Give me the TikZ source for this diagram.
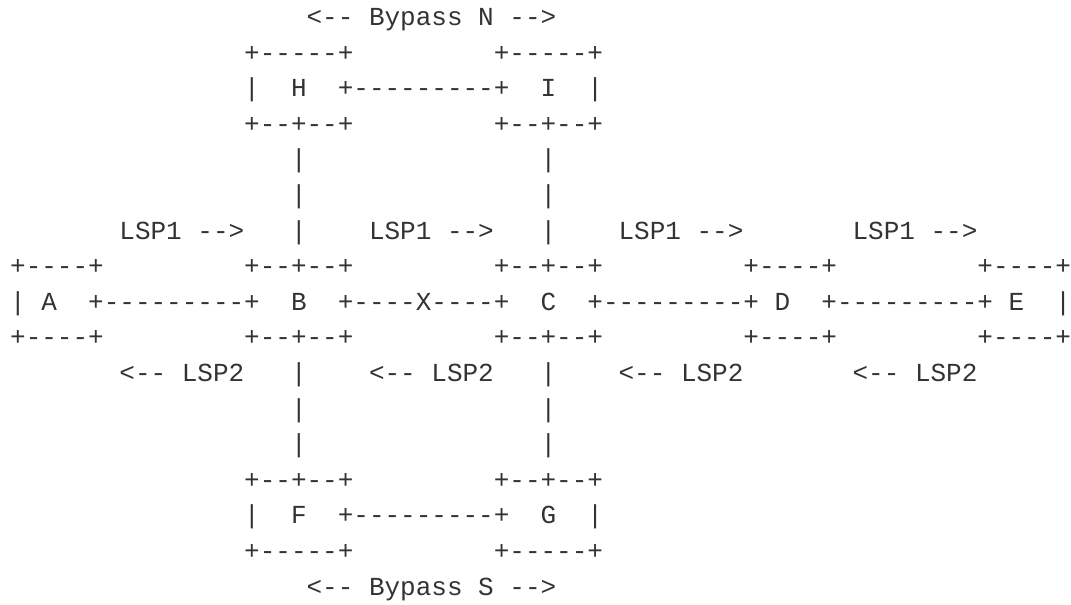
\documentclass[tikz,border=0pt]{standalone}
\usepackage{fontspec}
\setmonofont{Liberation Mono}
\definecolor{inkgray}{HTML}{333333}
\tikzset{
  ascii/.style={anchor=base west, inner sep=0pt, text=inkgray,
    font=\ttfamily\fontsize{26bp}{30bp}\selectfont}
}
\begin{document}
\begin{tikzpicture}
      \path[use as bounding box] (0bp,0bp) rectangle (1071bp,-605bp);
      \begin{scope}[shift={(10bp,-25.5bp)}, x=15.6bp, y=-35.6bp, every node/.style=ascii]
      \path
        (19,0) node (bypassN){<-- Bypass N -->}
        (15,1) node (hTop){+-----+}
        (31,1) node (iTop){+-----+}
        (15,2) node (hLeft){|}
        (18,2) node (h){H}
        (21,2) node (hi){+---------+}
        (34,2) node (i){I}
        (37,2) node (iRight){|}
        (15,3) node (hBot){+--+--+}
        (31,3) node (iBot){+--+--+}
        (18,4) node (hb1){|}
        (34,4) node (ic1){|}
        (18,5) node (hb2){|}
        (34,5) node (ic2){|};
      \path
        (7,6) node (fwdAB){LSP1 -->}
        (18,6) node (hb3){|}
        (23,6) node (fwdBC){LSP1 -->}
        (34,6) node (ic3){|}
        (39,6) node (fwdCD){LSP1 -->}
        (54,6) node (fwdDE){LSP1 -->};
      \path
        (0,7) node (aTop){+----+}
        (15,7) node (bTop){+--+--+}
        (31,7) node (cTop){+--+--+}
        (47,7) node (dTop){+----+}
        (62,7) node (eTop){+----+}
        (0,8) node (aLeft){|}
        (2,8) node (a){A}
        (5,8) node (ab){+---------+}
        (18,8) node (b){B}
        (21,8) node (bc){+----X----+}
        (34,8) node (c){C}
        (37,8) node (cd){+---------+}
        (49,8) node (d){D}
        (52,8) node (de){+---------+}
        (64,8) node (e){E}
        (67,8) node (eRight){|}
        (0,9) node (aBot){+----+}
        (15,9) node (bBot){+--+--+}
        (31,9) node (cBot){+--+--+}
        (47,9) node (dBot){+----+}
        (62,9) node (eBot){+----+};
      \path
        (7,10) node (revAB){<-- LSP2}
        (18,10) node (bf1){|}
        (23,10) node (revBC){<-- LSP2}
        (34,10) node (cg1){|}
        (39,10) node (revCD){<-- LSP2}
        (54,10) node (revDE){<-- LSP2};
      \path
        (18,11) node (bf2){|}
        (34,11) node (cg2){|}
        (18,12) node (bf3){|}
        (34,12) node (cg3){|}
        (15,13) node (fTop){+--+--+}
        (31,13) node (gTop){+--+--+}
        (15,14) node (fLeft){|}
        (18,14) node (f){F}
        (21,14) node (fg){+---------+}
        (34,14) node (g){G}
        (37,14) node (gRight){|}
        (15,15) node (fBot){+-----+}
        (31,15) node (gBot){+-----+}
        (19,16) node (bypassS){<-- Bypass S -->};
      \end{scope}
    \end{tikzpicture}
\end{document}
